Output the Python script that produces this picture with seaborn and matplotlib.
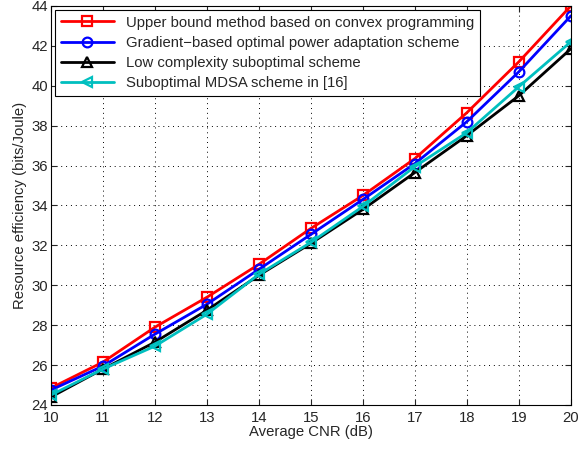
import numpy as np
import pandas as pd
import matplotlib
matplotlib.use('Agg')
import matplotlib.pyplot as plt
import seaborn as sns

cnr = [10, 11, 12, 13, 14, 15, 16, 17, 18, 19, 20]
upper_bound = [24.85, 26.15, 27.9, 29.4, 31.05, 32.85, 34.5, 36.35, 38.65, 41.2, 44.0]
gradient = [24.75, 25.95, 27.55, 29.05, 30.8, 32.55, 34.3, 36.1, 38.2, 40.7, 43.5]
low_complexity = [24.4, 25.8, 27.15, 28.75, 30.5, 32.1, 33.8, 35.65, 37.5, 39.5, 41.85]
mdsa = [24.5, 25.8, 26.95, 28.55, 30.55, 32.15, 33.95, 35.95, 37.65, 39.95, 42.2]

labels = ['Upper bound method based on convex programming',
          'Gradient\u2212based optimal power adaptation scheme',
          'Low complexity suboptimal scheme',
          'Suboptimal MDSA scheme in [16]']
colors = ['#ff0000', '#0000ff', '#000000', '#00bfbf']
markers = ['s', 'o', '^', '<']

df = pd.DataFrame({'cnr': cnr * 4,
                   'val': upper_bound + gradient + low_complexity + mdsa,
                   'scheme': sum([[l] * len(cnr) for l in labels], [])})

sns.set_style('ticks')
plt.rcParams['font.family'] = ['Liberation Sans', 'DejaVu Sans']
plt.rcParams['font.size'] = 10.7

fig = plt.figure(figsize=(5.79, 4.51), dpi=100)
ax = fig.add_axes([0.088, 0.102, 0.898, 0.885])

for lab, c, m in zip(labels, colors, markers):
    sub = df[df['scheme'] == lab]
    sns.lineplot(data=sub, x='cnr', y='val', ax=ax, color=c, marker=m,
                 markersize=7, markerfacecolor='none', markeredgecolor=c,
                 markeredgewidth=1.6, linewidth=2, label=lab)

ax.set_xlim(10, 20)
ax.set_ylim(24, 44)
ax.set_xticks(range(10, 21))
ax.set_yticks(range(24, 45, 2))
ax.set_xlabel('Average CNR (dB)', fontsize=10.7, labelpad=0)
ax.set_ylabel('Resource efficiency (bits/Joule)', fontsize=10.7, labelpad=3)
ax.grid(True, linestyle=(0, (1, 4)), color='black', linewidth=0.7)
ax.tick_params(direction='in', labelsize=10.7, length=4, width=0.8, top=True, right=True, pad=2)
ax.tick_params(axis='x', pad=4)
for s in ax.spines.values():
    s.set_linewidth(0.8)
    s.set_color('black')

leg = ax.legend(loc='upper left', fontsize=10.7, frameon=True, fancybox=False,
                edgecolor='black', framealpha=1, handlelength=3.6,
                borderpad=0.4, labelspacing=0.42, borderaxespad=0.25)
leg.get_frame().set_linewidth(0.8)

fig.savefig('out.png', dpi=100)
